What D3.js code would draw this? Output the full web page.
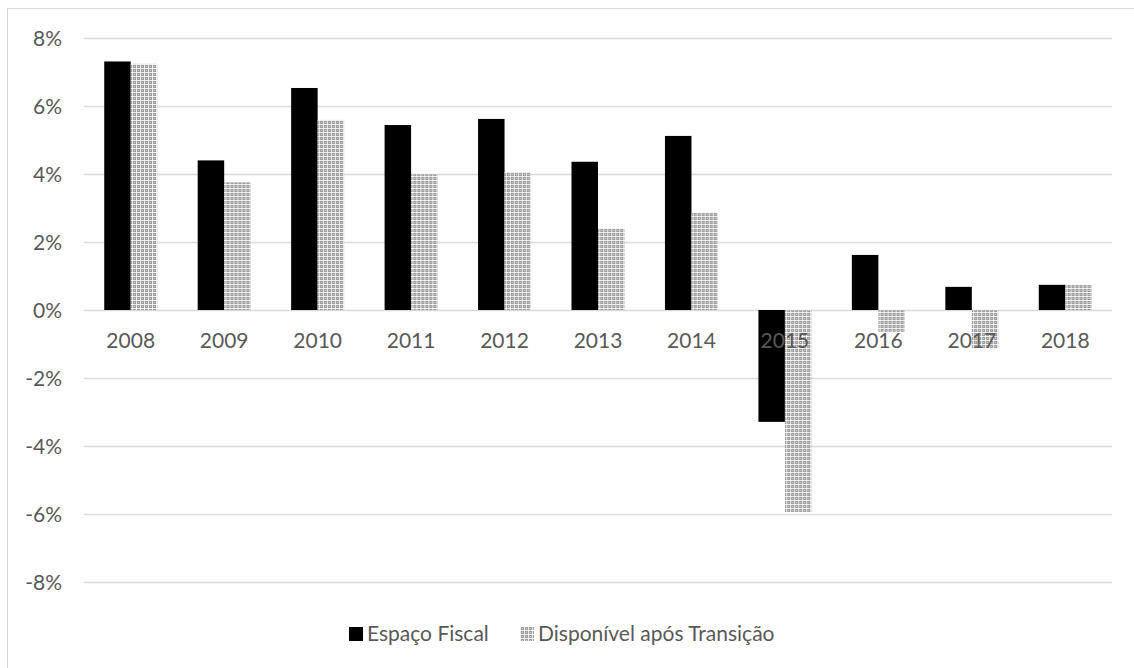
<!DOCTYPE html>
<html>
<head>
<meta charset="utf-8">
<script src="https://cdn.jsdelivr.net/npm/d3@7"></script>
<style>
  html, body { margin: 0; padding: 0; background: #fff; }
  svg text { font-family: Lato, "Open Sans", "Liberation Sans", sans-serif; fill: #595959; }
</style>
</head>
<body>
<svg id="chart" width="1134" height="668"></svg>
<script>
// Annual values (% points)
const years = ["2008","2009","2010","2011","2012","2013","2014","2015","2016","2017","2018"];
const espacoFiscal = [7.31, 4.40, 6.53, 5.44, 5.62, 4.36, 5.12, -3.29, 1.62, 0.68, 0.74];
const disponivel   = [7.24, 3.76, 5.59, 4.00, 4.06, 2.40, 2.86, -5.94, -0.64, -1.12, 0.74];
const seriesNames  = ["Espaço Fiscal", "Disponível após Transição"];
const yTicks = [-8, -6, -4, -2, 0, 2, 4, 6, 8];

const svg = d3.select("#chart");
const W = 1134, H = 668;
const plot = { left: 84, right: 1112, top: 38, bottom: 582 };
const fontSize = "21px";

// checker pattern for the second series
const defs = svg.append("defs");
const pat = defs.append("pattern")
  .attr("id", "checker")
  .attr("patternUnits", "userSpaceOnUse")
  .attr("width", 4).attr("height", 4);
pat.append("rect").attr("width", 4).attr("height", 4).attr("fill", "#9e9e9e");
pat.append("rect").attr("x", 0).attr("y", 0).attr("width", 1).attr("height", 4).attr("fill", "#ffffff").attr("opacity", 0.8);
pat.append("rect").attr("x", 0).attr("y", 0).attr("width", 4).attr("height", 1).attr("fill", "#ffffff").attr("opacity", 0.8);
pat.append("rect").attr("x", 2).attr("y", 2).attr("width", 1).attr("height", 1).attr("fill", "#d0d0d0");

// chart frame
svg.append("rect")
  .attr("x", 7.5).attr("y", 8.5)
  .attr("width", W + 10).attr("height", H + 10)
  .attr("fill", "none").attr("stroke", "#d9d9d9").attr("stroke-width", 1);

const x0 = d3.scaleBand().domain(years).range([plot.left, plot.right]).padding(0);
const step = x0.bandwidth();
const gap = step * 0.433;
const x1 = d3.scaleBand().domain(seriesNames).range([gap / 2, step - gap / 2]).padding(0);
const y = d3.scaleLinear().domain([-8, 8]).range([plot.bottom, plot.top]);

// horizontal gridlines
svg.append("g")
  .selectAll("line")
  .data(yTicks)
  .join("line")
  .attr("x1", plot.left).attr("x2", plot.right)
  .attr("y1", d => Math.round(y(d)) + 0.5).attr("y2", d => Math.round(y(d)) + 0.5)
  .attr("stroke", "#d9d9d9").attr("stroke-width", 1.5);

// y axis labels
const yAxis = d3.axisLeft(y).tickValues(yTicks).tickSize(0).tickPadding(0)
  .tickFormat(d => d + "%");
const gy = svg.append("g").attr("transform", `translate(${plot.left - 22},0)`).call(yAxis);
gy.select(".domain").remove();
gy.selectAll("text").style("font-size", fontSize).attr("fill", "#595959").attr("dy", "0.35em");

// bars
const rows = years.map((yr, i) => ({ year: yr, values: [espacoFiscal[i], disponivel[i]] }));
const fills = ["#000000", "url(#checker)"];
const groups = svg.append("g").selectAll("g")
  .data(rows)
  .join("g")
  .attr("transform", d => `translate(${x0(d.year)},0)`);
groups.selectAll("rect")
  .data(d => d.values.map((v, k) => ({ name: seriesNames[k], v, k })))
  .join("rect")
  .attr("x", d => x1(d.name))
  .attr("width", x1.bandwidth())
  .attr("y", d => y(Math.max(0, d.v)))
  .attr("height", d => Math.abs(y(d.v) - y(0)))
  .attr("fill", d => fills[d.k]);

// category labels along the zero line
const xAxis = d3.axisBottom(x0).tickSize(0).tickPadding(0);
const gx = svg.append("g").attr("transform", `translate(0,${y(0)})`).call(xAxis);
gx.select(".domain").remove();
gx.selectAll("text").style("font-size", fontSize).attr("fill", "#595959").attr("dy", "1.82em");

// legend
const legend = svg.append("g").attr("transform", "translate(349,634)");
const legendItems = [
  { name: seriesNames[0], fill: fills[0], x: 0 },
  { name: seriesNames[1], fill: fills[1], x: 171 }
];
const li = legend.selectAll("g").data(legendItems).join("g")
  .attr("transform", d => `translate(${d.x},0)`);
li.append("rect").attr("x", 0).attr("y", -7).attr("width", 14).attr("height", 14).attr("fill", d => d.fill);
li.append("text").attr("x", 18).attr("y", 0).attr("dy", "0.35em")
  .style("font-size", fontSize).text(d => d.name);
</script>
</body>
</html>
